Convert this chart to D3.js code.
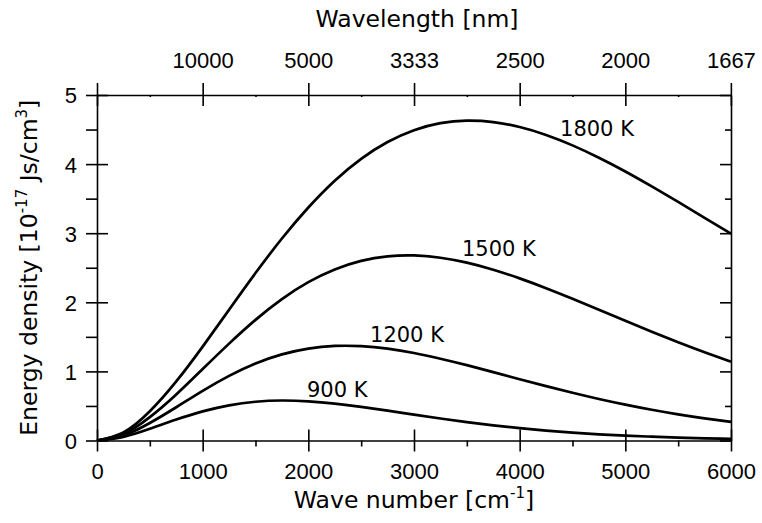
<!DOCTYPE html>
<html>
<head>
<meta charset="utf-8">
<script src="https://cdn.jsdelivr.net/npm/d3@7"></script>
<style>
  body { margin: 0; background: #fff; }
  svg { display: block; font-family: "DejaVu Sans", sans-serif; }
  .domain { stroke: #000; stroke-width: 1.6; }
  .tick line { stroke: #000; stroke-width: 1.6; }
  .tick text { font-size: 22px; fill: #000; }
</style>
</head>
<body>
<svg width="762" height="523"></svg>
<script>
// wave number grid [cm^-1]
var waveNumbers = [0, 250, 500, 750, 1000, 1250, 1500, 1750, 2000, 2250, 2500, 2750, 3000,
                   3250, 3500, 3750, 4000, 4250, 4500, 4750, 5000, 5250, 5500, 5750, 6000];

// energy density [1e-17 Js/cm^3]
var u1800 = [0, 0.117, 0.423, 0.855, 1.359, 1.893, 2.423, 2.923, 3.372, 3.760, 4.076, 4.319, 4.490,
             4.592, 4.629, 4.608, 4.536, 4.422, 4.271, 4.092, 3.893, 3.677, 3.453, 3.223, 2.993];
var u1500 = [0, 0.096, 0.338, 0.666, 1.034, 1.402, 1.746, 2.046, 2.291, 2.475, 2.599, 2.665, 2.678,
             2.645, 2.574, 2.472, 2.346, 2.204, 2.051, 1.892, 1.732, 1.575, 1.423, 1.278, 1.141];
var u1200 = [0, 0.074, 0.253, 0.481, 0.718, 0.935, 1.114, 1.246, 1.330, 1.368, 1.365, 1.329, 1.266,
             1.183, 1.090, 0.989, 0.887, 0.787, 0.691, 0.601, 0.519, 0.445, 0.379, 0.321, 0.270];
var u900  = [0, 0.053, 0.170, 0.303, 0.421, 0.509, 0.561, 0.579, 0.567, 0.534, 0.487, 0.432, 0.374,
             0.318, 0.266, 0.219, 0.178, 0.143, 0.114, 0.090, 0.070, 0.055, 0.042, 0.032, 0.025];

var seriesNames = ["1800 K", "1500 K", "1200 K", "900 K"];
var seriesValues = [u1800, u1500, u1200, u900];
// where each label sits, in data units (wave number, energy density)
var labelAnchors = [[4382, 4.41], [3454, 2.67], [2584, 1.425], [1987, 0.63]];

var xTicks = [0, 1000, 2000, 3000, 4000, 5000, 6000];
var xMinor = [500, 1500, 2500, 3500, 4500, 5500];
var yTicks = [0, 1, 2, 3, 4, 5];
var yMinor = [0.5, 1.5, 2.5, 3.5, 4.5];
var wlTicks = [10000, 5000, 3333, 2500, 2000, 1667];   // nm
var topMinor = [500, 1500, 2500, 3500, 4500, 5500];

var svg = d3.select("svg"),
    margin = {top: 95, right: 31, bottom: 82.5, left: 97},
    width = +svg.attr("width") - margin.left - margin.right,
    height = +svg.attr("height") - margin.top - margin.bottom;

var x = d3.scaleLinear().domain([0, 6000]).range([0, width]);
var y = d3.scaleLinear().domain([0, 5]).range([height, 0]);

var g = svg.append("g")
    .attr("transform", "translate(" + margin.left + "," + margin.top + ")");

// minor ticks first so the spines sit on top
g.append("g").attr("transform", "translate(0," + height + ")")
    .call(d3.axisBottom(x).tickValues(xMinor).tickSize(6).tickFormat("").tickSizeOuter(0))
    .select(".domain").remove();
g.append("g")
    .call(d3.axisLeft(y).tickValues(yMinor).tickSize(11).tickFormat("").tickSizeOuter(0))
    .select(".domain").remove();
g.append("g").attr("transform", "translate(" + width + ",0)")
    .call(d3.axisRight(y).tickValues(yMinor).tickSize(-6).tickFormat("").tickSizeOuter(0))
    .select(".domain").remove();
g.append("g")
    .call(d3.axisTop(x).tickValues(topMinor).tickSize(-2).tickFormat("").tickSizeOuter(0))
    .select(".domain").remove();

// bottom axis
var xAxis = g.append("g")
    .attr("transform", "translate(0," + height + ")")
    .call(d3.axisBottom(x).tickValues(xTicks).tickFormat(d3.format("d")).tickSizeOuter(0));
xAxis.selectAll(".tick line").attr("y1", -11).attr("y2", 11);
xAxis.selectAll(".tick text").attr("y", 38).attr("dy", null);

// left axis
var yAxis = g.append("g")
    .call(d3.axisLeft(y).tickValues(yTicks).tickFormat(d3.format("d")).tickSizeOuter(0));
yAxis.selectAll(".tick line").attr("x1", -11).attr("x2", 11);
yAxis.selectAll(".tick text").attr("x", -20).attr("dy", "0.36em");

// right axis, ticks only
var rAxis = g.append("g")
    .attr("transform", "translate(" + width + ",0)")
    .call(d3.axisRight(y).tickValues(yTicks).tickSize(-11).tickFormat("").tickSizeOuter(0));

// top axis: wavelength in nm at the matching wave number
var topAxis = g.append("g")
    .call(d3.axisTop(x)
      .tickValues([0].concat(wlTicks.map(function(d) { return 1e7 / d; })))
      .tickFormat(function(d, i) { return i == 0 ? "" : wlTicks[i - 1]; })
      .tickSizeOuter(0));
topAxis.selectAll(".tick line").attr("y1", -12).attr("y2", 11);
topAxis.selectAll(".tick text").attr("y", -27).attr("dy", null);

// curves
var line = d3.line()
    .x(function(d, i) { return x(waveNumbers[i]); })
    .y(function(d) { return y(d); })
    .curve(d3.curveNatural);

g.selectAll(".curve")
  .data(seriesValues)
  .enter().append("path")
    .attr("class", "curve")
    .attr("d", line)
    .attr("fill", "none")
    .attr("stroke", "#000")
    .attr("stroke-width", 2.7)
    .attr("stroke-linejoin", "round");

g.selectAll(".label")
  .data(seriesNames)
  .enter().append("text")
    .attr("class", "label")
    .attr("x", function(d, i) { return x(labelAnchors[i][0]); })
    .attr("y", function(d, i) { return y(labelAnchors[i][1]); })
    .attr("font-size", 21)
    .text(function(d) { return d; });

// axis titles
svg.append("text")
    .attr("x", margin.left + width / 2 + 3)
    .attr("y", 27)
    .attr("text-anchor", "middle")
    .attr("font-size", 23.5)
    .text("Wavelength [nm]");

var xt = svg.append("text")
    .attr("x", margin.left + width / 2)
    .attr("y", 508)
    .attr("text-anchor", "middle")
    .attr("font-size", 23.5);
xt.append("tspan").text("Wave number [cm");
xt.append("tspan").attr("font-size", 15).attr("dy", -10).text("-1");
xt.append("tspan").attr("dy", 10).text("]");

var yt = svg.append("text")
    .attr("transform", "translate(37," + (margin.top + height / 2) + ") rotate(-90)")
    .attr("text-anchor", "middle")
    .attr("font-size", 23.5);
yt.append("tspan").text("Energy density [10");
yt.append("tspan").attr("font-size", 15).attr("dy", -10).text("-17");
yt.append("tspan").attr("dy", 10).text(" Js/cm");
yt.append("tspan").attr("font-size", 15).attr("dy", -10).text("3");
yt.append("tspan").attr("dy", 10).text("]");
</script>
</body>
</html>
